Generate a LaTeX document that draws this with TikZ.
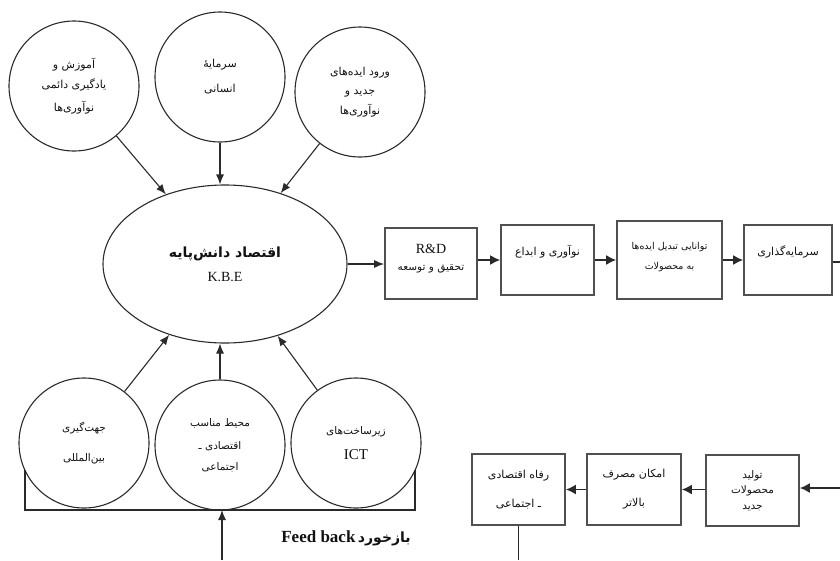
\documentclass[tikz,border=0pt]{standalone}
\usepackage{fontspec}
\setmainfont{Liberation Serif}
\newfontfamily\arabicfont[Script=Arabic]{DejaVu Sans}
\TeXXeTstate=1
\usetikzlibrary{arrows.meta,shapes.geometric}
\newcommand{\fatext}[1]{{\arabicfont\beginR #1\endR}}
\definecolor{ln}{HTML}{2A2A2A}
\definecolor{bx}{HTML}{505050}
\definecolor{tx}{HTML}{111111}
\tikzset{
  circ/.style={circle, draw=ln, line width=1.1pt, minimum size=130pt, inner sep=0pt, align=center, text=tx, font=\fontsize{11}{13}\selectfont},
  kbebox/.style={ellipse, draw=ln, line width=1.1pt, minimum width=244pt, minimum height=158pt, inner sep=0pt, align=center, text=tx},
  procbox/.style={rectangle, draw=bx, line width=1.6pt, inner sep=0pt, align=center, text=tx, font=\fontsize{10.5}{12.5}\selectfont},
  conn/.style={draw=ln, line width=1.1pt, -{Latex[length=10pt,width=8pt]}},
  flow/.style={draw=ln, line width=1.8pt, -{Latex[length=10pt,width=10pt]}},
  plain/.style={draw=ln, line width=1.1pt},
}
\begin{document}
\begin{tikzpicture}[x=1pt,y=-1pt]
\useasboundingbox (0,0) rectangle (840,560);
% top circles
\node[circ] (c1) at (74,86) {\fatext{آموزش و}\\[7pt]\fatext{یادگیری دائمی}\\[9pt]\fatext{نوآوری‌ها}};
\node[circ] (c2) at (220,77) {\fatext{سرمایهٔ}\\[12pt]\fatext{انسانی}};
\node[circ] (c3) at (360,92) {\fatext{ورود ایده‌های}\\[6pt]\fatext{جدید و}\\[6pt]\fatext{نوآوری‌ها}};
% ellipse
\node[kbebox] (kbe) at (225,264) {{\fontsize{14}{16}\bfseries\fatext{اقتصاد دانش‌پایه}}\\[10pt]{\fontsize{14}{16}\selectfont K.B.E}};
% bottom circles
\node[circ, font=\fontsize{10.5}{12.5}\selectfont] (d1) at (84,443) {\fatext{جهت‌گیری}\\[18pt]\fatext{بین‌المللی}};
\node[circ, font=\fontsize{10.5}{12.5}\selectfont] (d2) at (220,445) {\fatext{محیط مناسب}\\[11pt]\fatext{اقتصادی ـ}\\[8pt]\fatext{اجتماعی}};
\node[circ, font=\fontsize{10.5}{12.5}\selectfont] (d3) at (356,443) {\fatext{زیرساخت‌های}\\[12pt]{\fontsize{15}{17}\selectfont ICT}};
% top row boxes
\node[procbox, minimum width=92pt, minimum height=71pt] (b1) at (431,263.5) {{\fontsize{14}{16}\selectfont R\&D}\\[4pt]\fatext{تحقیق و توسعه}\\[0pt]\phantom{x}};
\node[procbox, font=\fontsize{11}{13}\selectfont, minimum width=93pt, minimum height=70pt] (b2) at (547.5,260) {\fatext{نوآوری و ابداع}\\[6pt]\phantom{x}};
\node[procbox, font=\fontsize{9.5}{11.5}\selectfont, minimum width=105pt, minimum height=78pt] (b3) at (669.5,260) {\fatext{توانایی تبدیل ایده‌ها}\\[8pt]\fatext{به محصولات}\\[-3pt]\phantom{x}};
\node[procbox, font=\fontsize{11}{13}\selectfont, minimum width=88pt, minimum height=70pt] (b4) at (788,260) {\fatext{سرمایه‌گذاری}\\[6pt]\phantom{x}};
% bottom boxes
\node[procbox, font=\fontsize{11}{13}\selectfont, minimum width=93pt, minimum height=71pt] (e1) at (518.5,489.5) {\fatext{رفاه اقتصادی}\\[16pt]\fatext{ـ اجتماعی}};
\node[procbox, font=\fontsize{11}{13}\selectfont, minimum width=94pt, minimum height=71pt] (e2) at (634,489.5) {\fatext{امکان مصرف}\\[16pt]\fatext{بالاتر}};
\node[procbox, minimum width=93pt, minimum height=71pt] (e3) at (752.5,490.5) {\fatext{تولید}\\[3pt]\fatext{محصولات}\\[3pt]\fatext{جدید}};
% feedback label
\node[inner sep=0pt, text=tx] (fb) at (346,538) {{\fontsize{17}{19}\bfseries Feed back} {\fontsize{14}{16}\bfseries\fatext{بازخورد}}};
% coordinates
\coordinate (fbL) at (25,470);
\coordinate (fbR) at (415,470);
\coordinate (fbin) at (222,560);
\coordinate (outR) at (840,262);
\coordinate (inR) at (840,488);
\coordinate (downE) at (518.5,560);
% connectors into the ellipse
\draw[conn] (c1) -- (kbe);
\draw[conn] (c2.south) -- (c2.south |- kbe.north);
\draw[conn] (c3) -- (kbe);
\draw[conn] (d1) -- (kbe);
\draw[conn] (d2.north) -- (d2.north |- kbe.south);
\draw[conn] (d3) -- (kbe);
% top flow
\draw[conn, line width=1.4pt] (kbe.east) -- (kbe.east -| b1.west);
\draw[flow] (b1.east |- b2) -- (b2.west);
\draw[flow] (b2.east) -- (b3.west |- b2);
\draw[flow] (b3.east |- b4) -- (b4.west);
\draw[plain] (b4.east |- outR) -- (outR);
% bottom flow
\draw[flow] (inR) -- (inR -| e3.east);
\draw[flow] (e3.west |- e2) -- (e2.east);
\draw[flow] (e2.west) -- (e1.east);
\draw[plain] (e1.south) -- (downE);
% feedback bracket
\draw[plain] (fbL) -- (fbL |- 0,510) -- (fbR |- 0,510) -- (fbR);
\draw[conn] (fbin) -- (fbin |- 0,510);
\end{tikzpicture}
\end{document}
